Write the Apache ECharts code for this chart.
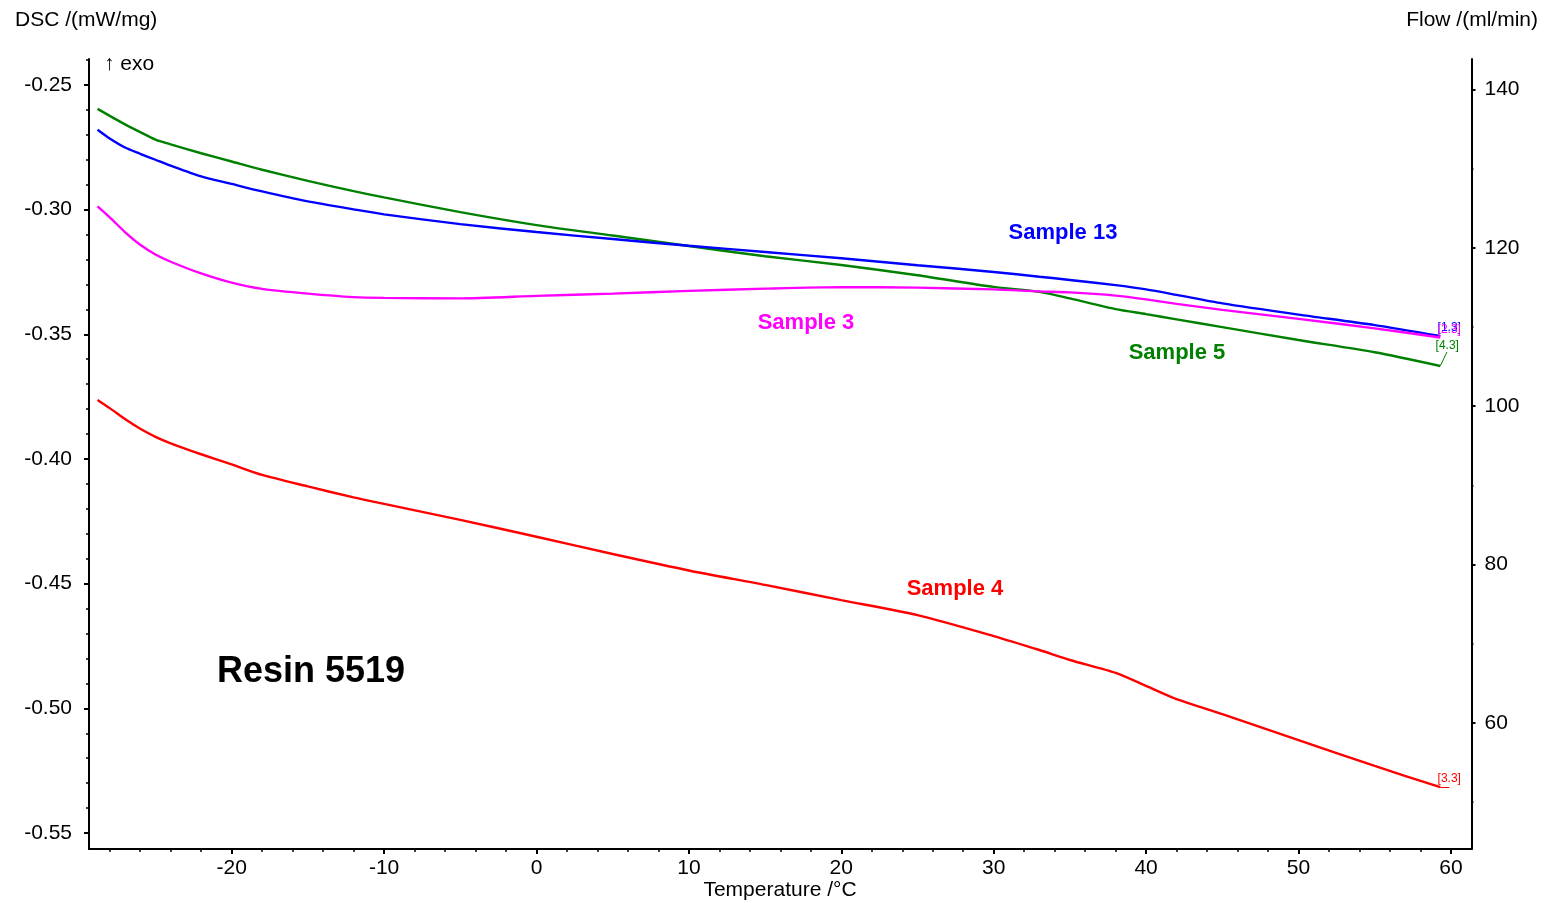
<!DOCTYPE html>
<html>
<head>
<meta charset="utf-8">
<title>Resin 5519 DSC</title>
<script src="https://cdn.jsdelivr.net/npm/echarts@6/dist/echarts.min.js"></script>
<style>
html, body {margin: 0; padding: 0; background: #fff;}
#main {width: 1552px; height: 903px;}
</style>
</head>
<body>
<div id="main"></div>
<script>
// temperature points (°C) shared by all curves
var temps = [-28.8, -28, -27, -26, -25, -24, -22, -20, -18, -15, -12, -10, -5, 0, 5, 10, 15, 20, 25, 30, 33, 35, 38, 40, 42, 45, 50, 55, 59.3];

// DSC /(mW/mg)
var sample13 = [-0.2680, -0.2715, -0.2751, -0.2776, -0.2800, -0.2824, -0.2867, -0.2897, -0.2927, -0.2967, -0.2999, -0.3019, -0.3058, -0.3090, -0.3118, -0.3145, -0.3170, -0.3195, -0.3223, -0.3250, -0.3269, -0.3282, -0.3303, -0.3320, -0.3342, -0.3376, -0.3421, -0.3463, -0.3507];
var sample3 = [-0.2987, -0.3031, -0.3090, -0.3141, -0.3180, -0.3209, -0.3256, -0.3293, -0.3318, -0.3337, -0.3351, -0.3354, -0.3356, -0.3346, -0.3337, -0.3326, -0.3317, -0.3311, -0.3313, -0.3320, -0.3328, -0.3332, -0.3345, -0.3360, -0.3378, -0.3402, -0.3438, -0.3476, -0.3513];
var sample5 = [-0.2596, -0.2624, -0.2658, -0.2689, -0.2719, -0.2738, -0.2774, -0.2807, -0.2840, -0.2885, -0.2926, -0.2951, -0.3010, -0.3062, -0.3104, -0.3146, -0.3187, -0.3222, -0.3263, -0.3310, -0.3330, -0.3356, -0.3399, -0.3419, -0.3440, -0.3471, -0.3523, -0.3572, -0.3627];
var sample4 = [-0.3763, -0.3796, -0.3840, -0.3879, -0.3911, -0.3937, -0.3981, -0.4022, -0.4064, -0.4110, -0.4154, -0.4180, -0.4244, -0.4312, -0.4381, -0.4447, -0.4505, -0.4566, -0.4626, -0.4710, -0.4766, -0.4806, -0.4858, -0.4910, -0.4963, -0.5023, -0.5127, -0.5231, -0.5316];

// tick labels
var xTicks = [-20, -10, 0, 10, 20, 30, 40, 50, 60];
var xMinor = [-28, -26, -24, -22, -18, -16, -14, -12, -8, -6, -4, -2, 2, 4, 6, 8, 12, 14, 16, 18, 22, 24, 26, 28, 32, 34, 36, 38, 42, 44, 46, 48, 52, 54, 56, 58];
var dscTicks = [-0.55, -0.50, -0.45, -0.40, -0.35, -0.30, -0.25];
var dscMinor = [-0.54, -0.53, -0.52, -0.51, -0.49, -0.48, -0.47, -0.46, -0.44, -0.43, -0.42, -0.41, -0.39, -0.38, -0.37, -0.36, -0.34, -0.33, -0.32, -0.31, -0.29, -0.28, -0.27, -0.26, -0.24];
var flowTicks = [60, 80, 100, 120, 140];
var flowMinor = [50, 70, 90, 110, 130];

var FONT = 'Liberation Sans, Arial, sans-serif';

function pairs(vals) {
	var out = [];
	for (var i = 0; i < temps.length; i++) {
		out.push([temps[i], vals[i]]);
	}
	return out;
}

function curve(name, vals, color, tag, tagOffset, lead) {
	var last = [temps[temps.length - 1], vals[vals.length - 1]];
	var s = {
		name: name,
		type: 'line',
		xAxisIndex: 0,
		yAxisIndex: 0,
		data: pairs(vals),
		showSymbol: false,
		smooth: 0.25,
		lineStyle: {color: color, width: 2.4},
		itemStyle: {color: color},
		markPoint: {
			silent: true,
			symbolSize: 0,
			data: [{coord: last}],
			label: {
				show: true,
				formatter: tag,
				color: color,
				fontFamily: FONT,
				fontSize: 12,
				offset: tagOffset
			}
		}
	};
	if (lead) {
		s.markLine = {
			silent: true,
			symbol: 'none',
			label: {show: false},
			lineStyle: {color: color, width: 1, type: 'solid'},
			data: [[{coord: last}, {coord: lead}]]
		};
	}
	return s;
}

var xMin = -29.36, xMax = 61.35;
var dscMin = -0.5564, dscMax = -0.2396;
var flowMin = 44.08, flowMax = 143.83;

// hidden-by-default value axis, only the parts switched on below get drawn
function axisBase(min, max, pos) {
	return {
		type: 'value',
		min: min,
		max: max,
		position: pos,
		splitLine: {show: false},
		axisLine: {show: false, onZero: false},
		axisLabel: {show: false},
		axisTick: {show: false}
	};
}

var blackLine = {show: true, onZero: false, lineStyle: {color: '#000', width: 2}};

var myChart = echarts.init(document.getElementById('main'));

// x axes: labelled one + one for minor ticks only
var xMain = axisBase(xMin, xMax, 'bottom');
xMain.axisLine = blackLine;
xMain.axisTick = {show: true, customValues: xTicks, length: 5, lineStyle: {color: '#000', width: 2}};
xMain.axisLabel = {show: true, customValues: xTicks, margin: 9, color: '#000', fontSize: 21, fontFamily: FONT};

var xSub = axisBase(xMin, xMax, 'bottom');
xSub.axisTick = {show: true, customValues: xMinor, length: 3, lineStyle: {color: '#000', width: 1.5}};

var yMain = axisBase(dscMin, dscMax, 'left');
yMain.axisLine = blackLine;
yMain.axisTick = {show: true, customValues: dscTicks, length: 5, lineStyle: {color: '#000', width: 2}};
yMain.axisLabel = {show: true, customValues: dscTicks, margin: 17, color: '#000', fontSize: 21, fontFamily: FONT,
	formatter: function (v) { return v.toFixed(2); }};

var ySub = axisBase(dscMin, dscMax, 'left');
ySub.axisTick = {show: true, customValues: dscMinor, length: 3, lineStyle: {color: '#000', width: 1.5}};

var rMain = axisBase(flowMin, flowMax, 'right');
rMain.axisLine = blackLine;
rMain.axisTick = {show: true, customValues: flowTicks, length: 4, lineStyle: {color: '#000', width: 2}};
rMain.axisLabel = {show: true, customValues: flowTicks, margin: 13, color: '#000', fontSize: 21, fontFamily: FONT};

var rSub = axisBase(flowMin, flowMax, 'right');
rSub.axisTick = {show: true, customValues: flowMinor, length: 2, lineStyle: {color: '#000', width: 1.5}};

function txt(x, y, text, size, color, weight, align) {
	return {
		type: 'text', x: x, y: y, silent: true,
		style: {text: text, fill: color, fontSize: size, fontWeight: weight || 'normal', fontFamily: FONT,
			align: align || 'center', verticalAlign: 'middle'}
	};
}

var option = {
	animation: false,
	backgroundColor: '#fff',
	grid: {left: 89, right: 80.5, top: 59, bottom: 54, containLabel: false},
	xAxis: [xMain, xSub],
	yAxis: [yMain, ySub, rMain, rSub],
	graphic: [
		txt(15, 20, 'DSC /(mW/mg)', 21, '#000', 'normal', 'left'),
		txt(1538, 20, 'Flow /(ml/min)', 21, '#000', 'normal', 'right'),
		txt(104, 64, '\u2191 exo', 21, '#000', 'normal', 'left'),
		txt(780, 890, 'Temperature /\u00b0C', 21, '#000'),
		txt(311, 672, 'Resin 5519', 36, '#000', 'bold'),
		txt(1063, 233, 'Sample 13', 22, '#0000ff', 'bold'),
		txt(806, 323, 'Sample 3', 22, '#ff00ff', 'bold'),
		txt(1177, 353, 'Sample 5', 22, '#008000', 'bold'),
		txt(955, 589, 'Sample 4', 22, '#ff0000', 'bold')
	],
	series: [
		curve('Sample 5', sample5, '#008000', '[4.3]', [7, -20], [59.74, -0.3571]),
		curve('Sample 4', sample4, '#ff0000', '[3.3]', [9, -8], [59.9, sample4[sample4.length - 1]]),
		curve('Sample 13', sample13, '#0000ff', '[1.3]', [9, -8], null),
		curve('Sample 3', sample3, '#ff00ff', '[2.3]', [9, -8], null)
	]
};
myChart.setOption(option);
</script>
</body>
</html>
